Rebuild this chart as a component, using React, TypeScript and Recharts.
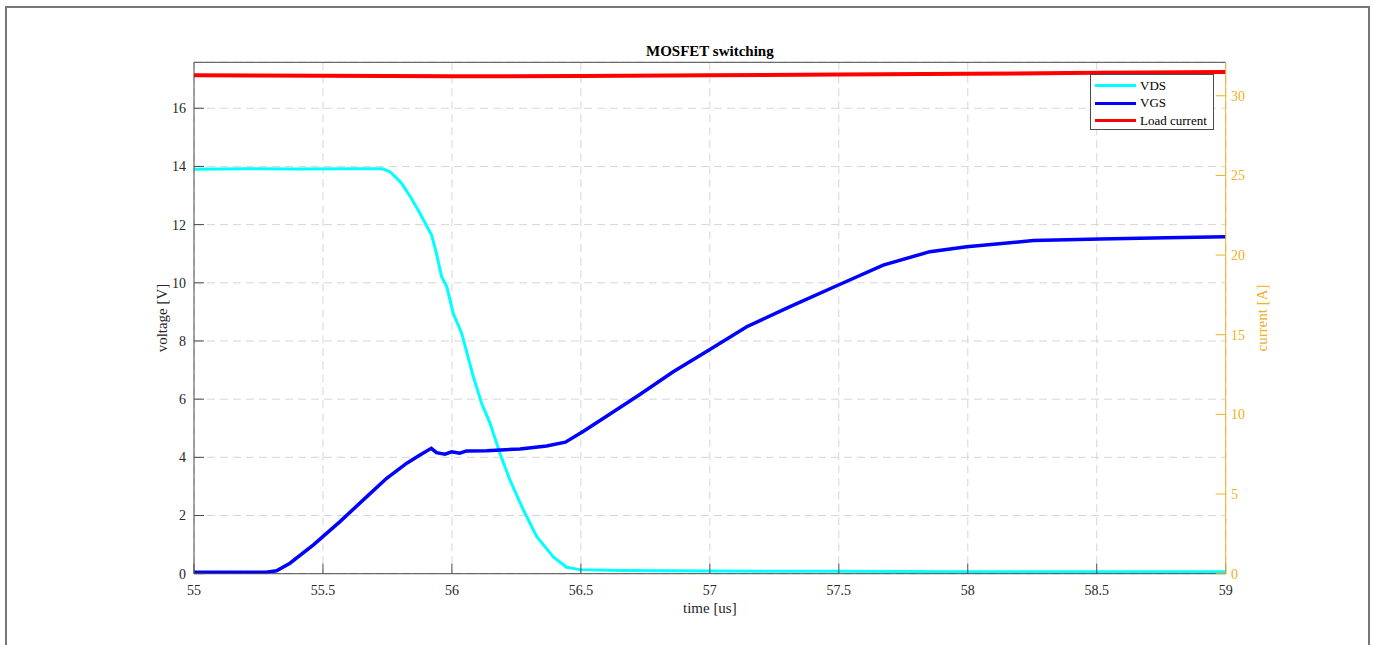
import React from "react";
import { LineChart, Line, XAxis, YAxis, CartesianGrid, Label } from "recharts";

// time axis [us]
const timeTicks = [55, 55.5, 56, 56.5, 57, 57.5, 58, 58.5, 59];
const voltageTicks = [0, 2, 4, 6, 8, 10, 12, 14, 16];
const currentTicks = [0, 5, 10, 15, 20, 25, 30];

// VDS [V]
const vdsTime = [
  55.0, 55.2, 55.4, 55.6, 55.73, 55.76, 55.805, 55.843, 55.876, 55.921, 55.94,
  55.96, 55.98, 56.005, 56.038, 56.083, 56.115, 56.148, 56.186, 56.225, 56.277,
  56.329, 56.393, 56.445, 56.496, 56.65, 57.0, 57.5, 58.0, 58.5, 59.0,
];
const vdsValues = [
  13.9, 13.92, 13.91, 13.92, 13.92, 13.82, 13.42, 12.9, 12.39, 11.64, 11.01,
  10.21, 9.87, 8.95, 8.26, 6.77, 5.86, 5.17, 4.14, 3.22, 2.19, 1.27, 0.58, 0.22,
  0.14, 0.11, 0.09, 0.08, 0.07, 0.07, 0.07,
];

// VGS [V]
const vgsTime = [
  55.0, 55.28, 55.32, 55.372, 55.463, 55.566, 55.67, 55.747, 55.825, 55.876,
  55.92, 55.94, 55.973, 55.999, 56.03, 56.057, 56.135, 56.264, 56.367, 56.44,
  56.51, 56.613, 56.73, 56.858, 57.0, 57.143, 57.311, 57.505, 57.672, 57.853,
  57.996, 58.254, 58.513, 58.77, 59.0,
];
const vgsValues = [
  0.05, 0.05, 0.1, 0.36, 0.99, 1.79, 2.65, 3.28, 3.8, 4.08, 4.31, 4.16, 4.11,
  4.19, 4.14, 4.22, 4.23, 4.29, 4.39, 4.52, 4.9, 5.49, 6.17, 6.94, 7.71, 8.49,
  9.18, 9.95, 10.61, 11.07, 11.24, 11.45, 11.51, 11.55, 11.58,
];

// load current [A]
const loadTime = [55.0, 55.5, 56.0, 56.5, 57.0, 57.5, 58.0, 58.5, 59.0];
const loadValues = [31.28, 31.25, 31.22, 31.24, 31.28, 31.33, 31.38, 31.44, 31.49];

const FONT = '"Liberation Serif", "Times New Roman", serif';
const AXIS = "#4a4a4a";
const ORANGE = "#EDB120";

const toPoints = (t: number[], v: number[]) => t.map((x, i) => ({ t: x, v: v[i] }));

const series = [
  { name: "VDS", color: "#00FFFF", width: 3, axis: "left", data: toPoints(vdsTime, vdsValues) },
  { name: "VGS", color: "#0000FF", width: 3.5, axis: "left", data: toPoints(vgsTime, vgsValues) },
  { name: "Load current", color: "#FF0000", width: 4, axis: "right", data: toPoints(loadTime, loadValues) },
];

const tickStyle = { fill: "#262626", fontSize: 14, fontFamily: FONT };
const labelStyle = { fill: "#262626", fontSize: 15, fontFamily: FONT };

export default function App() {
  return (
    <div style={{ position: "absolute", left: 0, top: 0, width: 1373, height: 645, overflow: "hidden", background: "#fff" }}>
      <div
        style={{
          position: "absolute",
          left: 5,
          top: 6,
          width: 1361,
          height: 700,
          border: "2px solid #767676",
        }}
      />
      <div style={{ position: "absolute", left: 0, top: 0 }}>
        <LineChart
          width={1373}
          height={645}
          margin={{ top: 38.3, left: 129.4, right: 74.7, bottom: 2.7 }}
        >
          <CartesianGrid yAxisId="left" stroke="#d6d6d6" strokeDasharray="8 5" />
          <XAxis
            dataKey="t"
            type="number"
            domain={[55, 59]}
            ticks={timeTicks}
            allowDuplicatedCategory={false}
            height={68.6}
            stroke={AXIS}
            tickSize={-10}
            tickMargin={21}
            tick={tickStyle}
            interval={0}
          >
            <Label value="time [us]" position="center" style={labelStyle} />
          </XAxis>
          <XAxis
            xAxisId="top"
            orientation="top"
            dataKey="t"
            type="number"
            domain={[55, 59]}
            ticks={timeTicks}
            height={24}
            stroke={AXIS}
            tickSize={-10}
            tick={false}
          >
            <Label
              value="MOSFET switching"
              position="center"
              style={{ fill: "#000", fontSize: 15, fontWeight: "bold", fontFamily: FONT }}
            />
          </XAxis>
          <YAxis
            yAxisId="left"
            type="number"
            domain={[0, 17.58]}
            ticks={voltageTicks}
            width={64.6}
            stroke={AXIS}
            tickSize={-10}
            tickMargin={18}
            tick={tickStyle}
            interval={0}
          >
            <Label value="voltage [V]" angle={-90} position="center" style={labelStyle} />
          </YAxis>
          <YAxis
            yAxisId="right"
            orientation="right"
            type="number"
            domain={[0, 32.1]}
            ticks={currentTicks}
            width={72.6}
            stroke={ORANGE}
            tickSize={-10}
            tickMargin={15.3}
            tick={{ ...tickStyle, fill: ORANGE }}
            interval={0}
          >
            <Label
              value="current [A]"
              angle={-90}
              position="center"
              style={{ ...labelStyle, fill: ORANGE }}
            />
          </YAxis>
          {series.map((s) => (
            <Line
              key={s.name}
              yAxisId={s.axis}
              data={s.data}
              dataKey="v"
              name={s.name}
              type="linear"
              stroke={s.color}
              strokeWidth={s.width}
              dot={false}
              activeDot={false}
              isAnimationActive={false}
            />
          ))}
        </LineChart>
      </div>
      <div
        style={{
          position: "absolute",
          left: 1090,
          top: 74,
          width: 124,
          height: 56,
          border: "1px solid #4a4a4a",
          background: "#fff",
          fontFamily: FONT,
          fontSize: 13,
          color: "#000",
          boxSizing: "border-box",
        }}
      >
        {series.map((s, i) => (
          <div
            key={s.name}
            style={{
              position: "absolute",
              left: 4,
              top: 2 + i * 17.5,
              height: 17,
              display: "flex",
              alignItems: "center",
              whiteSpace: "nowrap",
            }}
          >
            <span style={{ display: "inline-block", width: 41, height: 3, background: s.color, marginRight: 4 }} />
            {s.name}
          </div>
        ))}
      </div>
    </div>
  );
}
